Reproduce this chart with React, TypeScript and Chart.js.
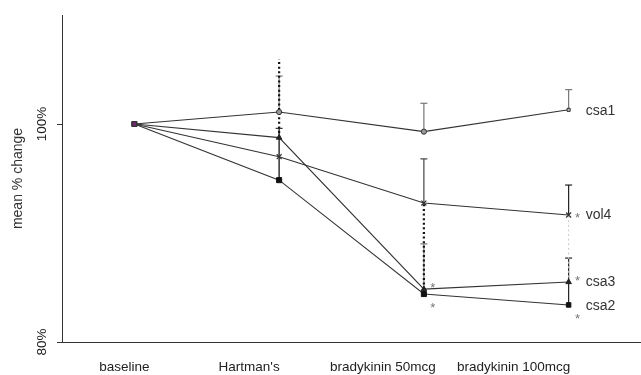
import React, { useEffect, useRef } from "react";
import { Chart, registerables } from "chart.js";

Chart.register(...registerables);

const categories = ["baseline", "Hartman's", "bradykinin 50mcg", "bradykinin 100mcg"];
const seriesNames = ["csa1", "vol4", "csa3", "csa2"];
const csa1 = [100, 101.1, 99.3, 101.3];
const vol4 = [100, 97.0, 92.75, 91.65];
const csa3 = [100, 98.75, 84.85, 85.5];
const csa2 = [100, 94.85, 84.4, 83.4];
const csa1Err = [0, 3.3, 2.6, 1.85];
const vol4Err = [0, 0, 4.05, 2.75];
const csa3Err = [0, 7.2, 7.9, 6.15];
const csa2Err = [0, 4.75, 4.6, 4.3];
const vol4Sig = [false, false, false, true];
const csa3Sig = [false, false, true, true];
const csa2Sig = [false, false, true, true];
const yTicks = [80, 100];

const FONT = "'Liberation Sans', Arial, sans-serif";

export default function App() {
  const ref = useRef<HTMLCanvasElement>(null);
  useEffect(() => {
    const canvas = ref.current;
    if (!canvas) return;

    const errStyles = [
      { data: csa1, err: csa1Err, colors: ["#777", "#777", "#777", "#777"], widths: [1.2, 1.2, 1.2, 1.2], dash: [] as number[], cap: true },
      { data: vol4, err: vol4Err, colors: ["#222", "#222", "#444", "#222"], widths: [1.2, 1.2, 1.2, 1.2], dash: [] as number[], cap: true },
      { data: csa2, err: csa2Err, colors: ["#666", "#333", "#777", "#222"], widths: [1.2, 1.5, 1.2, 1.2], dash: [] as number[], cap: true },
      { data: csa3, err: csa3Err, colors: ["#111", "#111", "#111", "#c8c8c8"], widths: [2.2, 2.2, 2.2, 1], dash: [2, 2.6], cap: false },
    ];
    const sigs = [
      { data: vol4, sig: vol4Sig, dx: 9, dy: 0 },
      { data: csa3, sig: csa3Sig, dx: 9, dy: -4 },
      { data: csa2, sig: csa2Sig, dx: 9, dy: 11 },
    ];
    const labelShift = [-10, -30, -41, -55];
    const seriesData = [csa1, vol4, csa3, csa2];
    const nameDy = [1, 0, 0, 1];

    const overlay = {
      id: "overlay",
      beforeDatasetsDraw(chart: any) {
        const ctx = chart.ctx;
        const xs = chart.scales.x;
        const ys = chart.scales.y;
        ctx.save();
        for (const s of errStyles) {
          for (let i = 0; i < s.data.length; i++) {
            if (!s.err[i]) continue;
            const x = xs.getPixelForValue(i);
            const y0 = ys.getPixelForValue(s.data[i]);
            const y1 = ys.getPixelForValue(s.data[i] + s.err[i]);
            ctx.strokeStyle = s.colors[i];
            ctx.lineWidth = s.widths[i];
            ctx.setLineDash(s.dash);
            ctx.beginPath();
            ctx.moveTo(x, y0);
            ctx.lineTo(x, y1);
            ctx.stroke();
            ctx.setLineDash([]);
            if (s.cap) {
              ctx.lineWidth = 1.2;
              ctx.beginPath();
              ctx.moveTo(x - 3.5, y1);
              ctx.lineTo(x + 3.5, y1);
              ctx.stroke();
            }
          }
        }
        ctx.restore();
      },
      afterDraw(chart: any) {
        const ctx = chart.ctx;
        const xs = chart.scales.x;
        const ys = chart.scales.y;
        ctx.save();
        ctx.fillStyle = "#222";
        ctx.font = `13.5px ${FONT}`;
        ctx.textAlign = "center";
        ctx.textBaseline = "middle";
        categories.forEach((c, i) => {
          ctx.fillText(c, xs.getPixelForValue(i) + labelShift[i], 367);
        });
        yTicks.forEach((v) => {
          const y = ys.getPixelForValue(v);
          ctx.save();
          ctx.translate(42, y);
          ctx.rotate(-Math.PI / 2);
          ctx.textAlign = "center";
          ctx.textBaseline = "middle";
          ctx.fillText(v + "%", 0, 0);
          ctx.restore();
        });
        ctx.fillStyle = "#777";
        ctx.font = `13px ${FONT}`;
        ctx.textAlign = "center";
        ctx.textBaseline = "middle";
        for (const s of sigs) {
          s.sig.forEach((on, i) => {
            if (!on) return;
            ctx.fillText("*", xs.getPixelForValue(i) + s.dx, ys.getPixelForValue(s.data[i]) + s.dy + 3);
          });
        }
        ctx.fillStyle = "#333";
        ctx.font = `14px ${FONT}`;
        ctx.textAlign = "left";
        const last = categories.length - 1;
        seriesNames.forEach((n, k) => {
          ctx.fillText(n, xs.getPixelForValue(last) + 17, ys.getPixelForValue(seriesData[k][last]) + nameDy[k]);
        });
        ctx.restore();
      },
    };

    const base = { borderColor: "#333", borderWidth: 1.1, fill: false, tension: 0 };
    const purple = "#6e2a6e";
    const chart = new Chart(canvas, {
      type: "line",
      data: {
        labels: categories,
        datasets: [
          { ...base, label: "csa1", data: csa1, pointStyle: ["rect", "circle", "circle", "rect"], pointRadius: [3.2, 2.6, 2.6, 2.2], pointBackgroundColor: [purple, "#999", "#999", "#bbb"], pointBorderColor: "#333", pointBorderWidth: 1 },
          { ...base, label: "vol4", data: vol4, pointStyle: ["rect", "crossRot", "crossRot", "crossRot"], pointRadius: [3.2, 3.5, 3.5, 3.5], pointBackgroundColor: [purple, "#333", "#333", "#333"], pointBorderColor: "#333", pointBorderWidth: 1.2 },
          { ...base, label: "csa3", data: csa3, pointStyle: ["rect", "triangle", "triangle", "triangle"], pointRadius: [3.2, 3.2, 3.2, 3.2], pointBackgroundColor: [purple, "#222", "#222", "#222"], pointBorderColor: "#222", pointBorderWidth: 1 },
          { ...base, label: "csa2", data: csa2, pointStyle: ["rect", "rect", "rect", "rect"], pointRadius: [3.2, 3.6, 3.6, 3.2], pointBackgroundColor: [purple, "#111", "#111", "#111"], pointBorderColor: "#111", pointBorderWidth: 1 },
        ],
      },
      options: {
        responsive: false,
        animation: false,
        layout: { autoPadding: false, padding: { top: 15, right: -2, left: 0, bottom: 0 } },
        plugins: { legend: { display: false }, tooltip: { enabled: false } },
        scales: {
          x: {
            type: "category",
            offset: true,
            grid: { display: false },
            border: { display: true, color: "#333", width: 1 },
            ticks: { display: false },
            afterFit: (s: any) => { s.height = 33; s.paddingLeft = 0; s.paddingRight = 0; },
          },
          y: {
            type: "linear",
            min: 80,
            max: 110,
            grid: { drawOnChartArea: false, drawTicks: true, tickLength: 5, color: "#333" },
            border: { display: true, color: "#333", width: 1 },
            ticks: { display: false, stepSize: 20, includeBounds: false },
            title: { display: true, text: "mean % change", color: "#333", font: { size: 14, family: FONT }, padding: { top: 10, bottom: 0 } },
            afterFit: (s: any) => { s.width = 62; s.paddingTop = 0; s.paddingBottom = 0; },
          },
        },
      },
      plugins: [overlay],
    });
    return () => chart.destroy();
  }, []);

  return (
    <div style={{ position: "absolute", left: 0, top: 0, width: 641, height: 375, background: "#fff" }}>
      <canvas ref={ref} width={641} height={375} />
    </div>
  );
}
